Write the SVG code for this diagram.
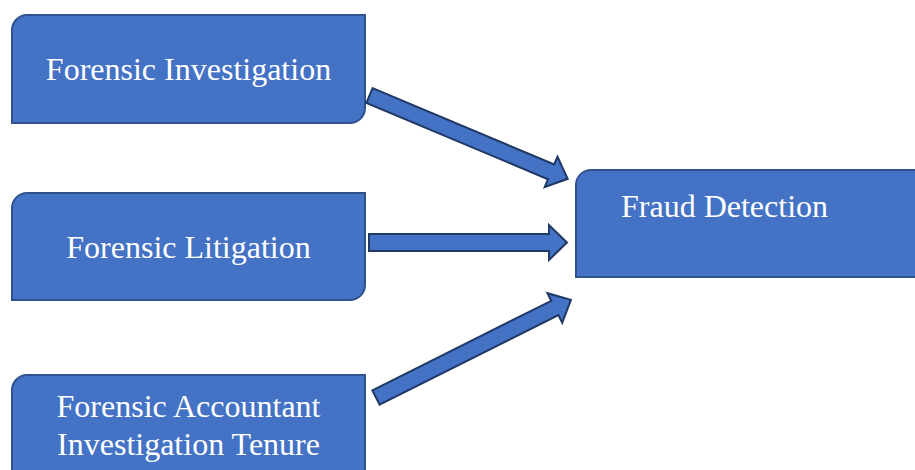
<svg xmlns="http://www.w3.org/2000/svg" width="915" height="470" viewBox="0 0 915 470">
<style>
.box{fill:#4472C4;stroke:#2F528F;stroke-width:2}
.arr{fill:#4472C4;stroke:#203864;stroke-width:2;stroke-linejoin:miter}
.lbl{font-family:"Liberation Serif","Times New Roman",serif;font-size:32px;fill:#FFFFFF}
</style>
<rect width="915" height="470" fill="#FFFFFF"/>
<g id="n1">
<path class="box" d="M27,15 H365 V108 A15,15 0 0 1 350,123 H12 V30 A15,15 0 0 1 27,15 Z"/>
<text class="lbl" x="188.5" y="80" text-anchor="middle">Forensic Investigation</text>
</g>
<g id="n2">
<path class="box" d="M27,193 H365 V285 A15,15 0 0 1 350,300 H12 V208 A15,15 0 0 1 27,193 Z"/>
<text class="lbl" x="188.5" y="258" text-anchor="middle">Forensic Litigation</text>
</g>
<g id="n3">
<path class="box" d="M27,375 H365 V470 A15,15 0 0 1 350,485 H12 V390 A15,15 0 0 1 27,375 Z"/>
<text class="lbl" x="188.5" y="417" text-anchor="middle">Forensic Accountant</text>
<text class="lbl" x="188.5" y="455" text-anchor="middle">Investigation Tenure</text>
</g>
<g id="n4">
<path class="box" d="M591,170 H920 V277 H576 V185 A15,15 0 0 1 591,170 Z"/>
<text class="lbl" x="621" y="217">Fraud Detection</text>
</g>
<g id="connectors">
<path class="arr" transform="translate(369.5,95.5) rotate(22.8)" d="M0,-8 H197 V-16.5 L215,0 L197,16.5 V8 H0 Z"/>
<path class="arr" transform="translate(369,242.5) rotate(0)" d="M0,-8.5 H180 V-17.5 L198,0 L180,17.5 V8.5 H0 Z"/>
<path class="arr" transform="translate(376,397.5) rotate(-26.6)" d="M0,-8 H200 V-16.5 L218,0 L200,16.5 V8 H0 Z"/>
</g>
</svg>
